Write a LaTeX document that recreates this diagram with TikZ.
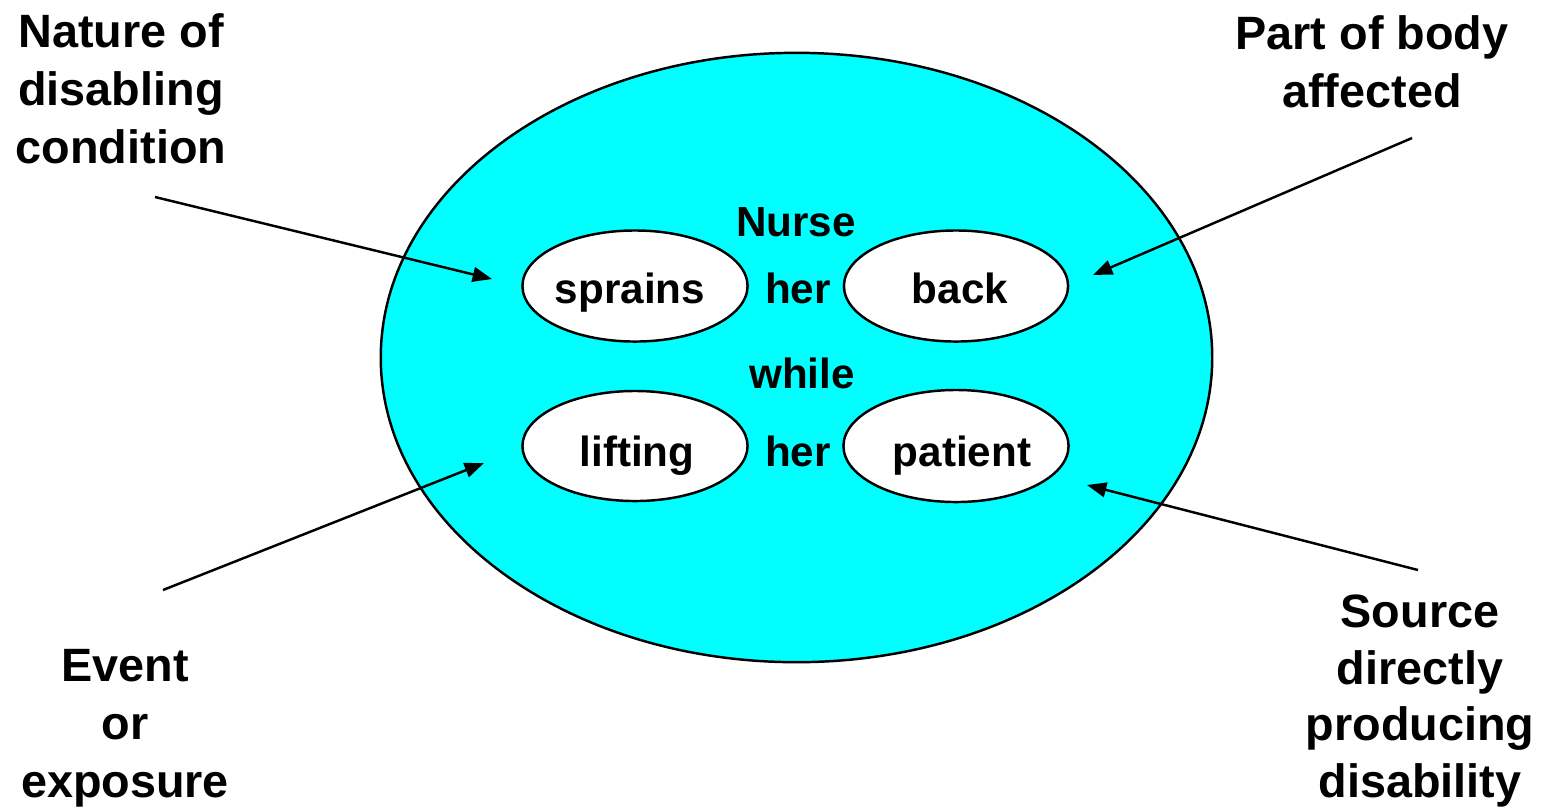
\documentclass[tikz,border=0pt]{standalone}
\usepackage{fontspec}
\setmainfont{Liberation Sans}
\usetikzlibrary{shapes.geometric,arrows.meta}
\definecolor{aqua}{RGB}{0,255,255}
\begin{document}
\begin{tikzpicture}[x=0.01cm,y=-0.01cm,
  oval/.style={ellipse,draw=black,line width=0.7pt,inner sep=0pt},
  word/.style={font=\fontsize{12}{14}\selectfont\bfseries,inner sep=0pt,anchor=base},
  lbl/.style={font=\fontsize{13.3}{16.5}\selectfont\bfseries,align=center,inner sep=0pt},
  arr/.style={line width=0.7pt,-{Triangle[length=5.5pt,width=4.2pt]}}]
\useasboundingbox (0,0) rectangle (1548,811);
\node[oval,fill=aqua,minimum width=8.31cm,minimum height=6.09cm] (big) at (796.5,357.5) {};
\node[oval,fill=white,minimum width=2.25cm,minimum height=1.11cm] (sprains) at (635,286) {};
\node[oval,fill=white,minimum width=2.24cm,minimum height=1.11cm] (back) at (956,286) {};
\node[oval,fill=white,minimum width=2.25cm,minimum height=1.10cm] (lifting) at (635,446) {};
\node[oval,fill=white,minimum width=2.25cm,minimum height=1.12cm] (patient) at (956,446) {};
\node[word] (tsprains) at (630,303) {sprains};
\node[word] (tback) at (960,303) {back};
\node[word] (tlifting) at (637,466) {lifting};
\node[word] (tpatient) at (962,466) {patient};
\node[word] (nurse) at (796,236) {Nurse};
\node[word] (her1) at (798,303) {her};
\node[word] (while) at (802,388) {while};
\node[word] (her2) at (798,466) {her};
\node[lbl] (nature) at (121,89) {Nature of\\disabling\\condition};
\node[lbl] (part) at (1372,62) {Part of body\\affected};
\node[lbl] (event) at (125,728) {Event\\or\\exposure};
\node[lbl,font=\fontsize{13.3}{16.1}\selectfont\bfseries] (source) at (1420,701) {Source\\directly\\producing\\disability};
\coordinate (a1s) at (155,197); \coordinate (a1e) at (492,279);
\coordinate (a2s) at (1412,138); \coordinate (a2e) at (1093,275);
\coordinate (a3s) at (163,590); \coordinate (a3e) at (484,463);
\coordinate (a4s) at (1418,570); \coordinate (a4e) at (1087,485);
\draw[arr] (a1s) -- (a1e);
\draw[arr] (a2s) -- (a2e);
\draw[arr] (a3s) -- (a3e);
\draw[arr] (a4s) -- (a4e);
\end{tikzpicture}
\end{document}
